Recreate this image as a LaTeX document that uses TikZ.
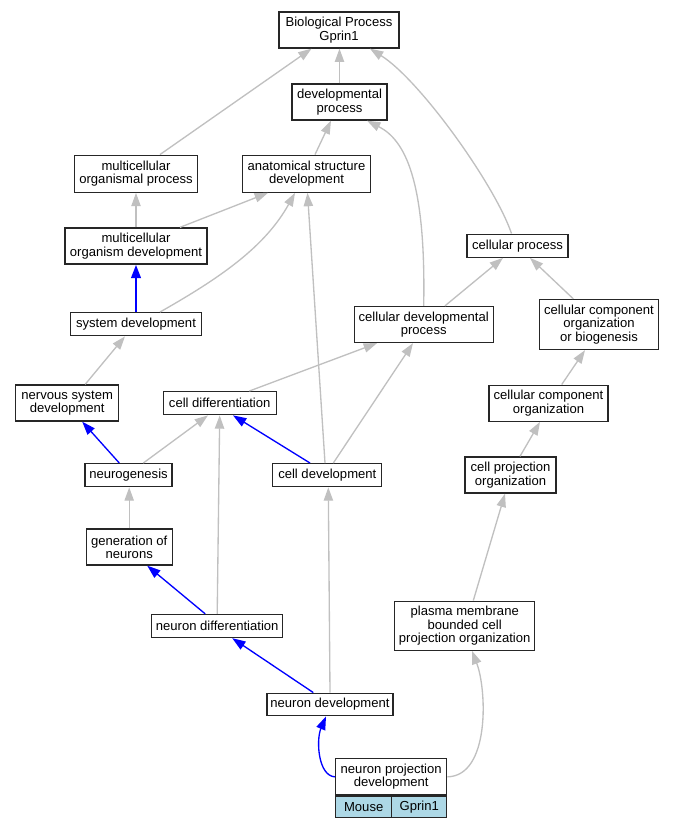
\documentclass[tikz,border=0pt]{standalone}
\usepackage{fontspec}
\setmainfont{Liberation Sans}
\usetikzlibrary{arrows.meta,calc}
\definecolor{edgegray}{HTML}{C0C0C0}
\definecolor{nodeblue}{HTML}{ADD8E6}
\begin{document}
\begin{tikzpicture}[x=0.75pt,y=-0.75pt,
  box/.style={draw=black!85, line width=1pt, rectangle, inner sep=0pt, align=center, font=\fontsize{9.8pt}{10pt}\selectfont},
  sz/.style 2 args={minimum width=#1*0.75pt, minimum height=#2*0.75pt},
  ge/.style={draw=edgegray, line width=1pt, -{Triangle[length=10pt,width=7pt]}, edgegray},
  be/.style={draw=blue, line width=1pt, -{Triangle[length=10pt,width=7pt]}, blue},
]
\useasboundingbox (0,0) rectangle (673,827);
\node[box,sz={120}{36}] (bp) at (339,30) {Biological Process\\Gprin1};
\node[box,sz={95}{36}] (dev) at (339.5,102) {developmental\\process};
\node[box,sz={123}{37}] (mop) at (136,173.7) {multicellular\\organismal process};
\node[box,sz={128}{37}] (asd) at (306.5,173.7) {anatomical structure\\development};
\node[box,sz={142}{36}] (mod) at (136,246) {multicellular\\organism development};
\node[box,sz={101}{23}] (cp) at (517.5,245.7) {cellular process};
\node[box,sz={131}{23}] (sd) at (136,324.2) {system development};
\node[box,sz={139}{36}] (cdp) at (423.7,324.5) {cellular developmental\\process};
\node[box,sz={119}{50}] (ccob) at (599,324.5) {cellular component\\organization\\or biogenesis};
\node[box,sz={103}{36}] (nsd) at (67.2,403) {nervous system\\development};
\node[box,sz={113}{23}] (cd) at (219.7,403.2) {cell differentiation};
\node[box,sz={119}{36}] (cco) at (548.5,403.2) {cellular component\\organization};
\node[box,sz={87}{23}] (ng) at (128.5,475.2) {neurogenesis};
\node[box,sz={109}{23}] (celldev) at (327.3,475.2) {cell development};
\node[box,sz={91}{36}] (cpo) at (510.5,475) {cell projection\\organization};
\node[box,sz={86}{36}] (gon) at (129.2,547) {generation of\\neurons};
\node[box,sz={131}{23}] (nd) at (217.2,626) {neuron differentiation};
\node[box,sz={140}{49}] (pmb) at (464.7,625.7) {plasma membrane\\bounded cell\\projection organization};
\node[box,sz={126}{22.5}] (ndev) at (330,704.5) {neuron development};
\node[box,sz={111}{36.3}] (npd) at (391.2,776.85) {neuron projection\\development};
\node[box,fill=nodeblue,sz={56}{21},anchor=north west] (mouse) at (npd.south west) {Mouse};
\node[box,fill=nodeblue,sz={55}{21},anchor=north east] (gene) at (npd.south east) {Gprin1};
% gray edges
\draw[ge] ($(mop.north)+(24,0)$) -- ($(bp.south)+(-27.5,0)$);
\draw[ge] (dev.north) -- ($(bp.south)+(0.5,0)$);
\draw[ge] ($(cp.north)+(-6,0)$) .. controls (495,185) and (420,80) .. ($(bp.south)+(31,0)$);
\draw[ge] ($(asd.north)+(8.5,0)$) -- ($(dev.south)+(-8.5,0)$);
\draw[ge] (cdp.north) .. controls (426,180) and (405,140) .. ($(dev.south)+(27.5,0)$);
\draw[ge] (mod.north) -- (mop.south);
\draw[ge] ($(mod.north)+(44,0)$) -- ($(asd.south)+(-38.5,0)$);
\draw[ge] ($(sd.north)+(24,0)$) .. controls (220,278) and (265,247) .. ($(asd.south)+(-11.5,0)$);
\draw[ge] ($(celldev.north)+(-2.3,0)$) -- ($(asd.south)+(1,0)$);
\draw[ge] ($(celldev.north)+(6,0)$) -- ($(cdp.south)+(-10.7,0)$);
\draw[ge] ($(cd.north)+(29.6,0)$) -- ($(cdp.south)+(-46.7,0)$);
\draw[ge] ($(cdp.north)+(21.3,0)$) -- ($(cp.south)+(-14.5,0)$);
\draw[ge] ($(ccob.north)+(-25.7,0)$) -- ($(cp.south)+(12.5,0)$);
\draw[ge] ($(nsd.north)+(18,0)$) -- ($(sd.south)+(-11,0)$);
\draw[ge] ($(ng.north)+(14.8,0)$) -- ($(cd.south)+(-11.7,0)$);
\draw[ge] (nd.north) -- (cd.south);
\draw[ge] (gon.north) -- ($(ng.south)+(0.7,0)$);
\draw[ge] (ndev.north) -- ($(celldev.south)+(1,0)$);
\draw[ge] ($(cco.north)+(13.2,0)$) -- ($(ccob.south)+(-14,0)$);
\draw[ge] ($(cpo.north)+(9.5,0)$) -- ($(cco.south)+(-8.5,0)$);
\draw[ge] ($(pmb.north)+(8.6,0)$) -- ($(cpo.south)+(-5.5,0)$);
\draw[ge] (npd.east) .. controls (490,776) and (487,690) .. ($(pmb.south)+(7.3,0)$);
% blue edges
\draw[be, line width=2pt] (sd.north) -- (mod.south);
\draw[be] ($(ng.north)+(-9.2,0)$) -- ($(nsd.south)+(15,0)$);
\draw[be] ($(celldev.north)+(-17.3,0)$) -- ($(cd.south)+(13.3,0)$);
\draw[be] ($(nd.north)+(-12,0)$) -- ($(gon.south)+(18,0)$);
\draw[be] ($(ndev.north)+(-16.7,0)$) -- ($(nd.south)+(15,0)$);
\draw[be] (npd.west) .. controls (318,776) and (316,740) .. ($(ndev.south)+(-4,0)$);
\end{tikzpicture}
\end{document}
